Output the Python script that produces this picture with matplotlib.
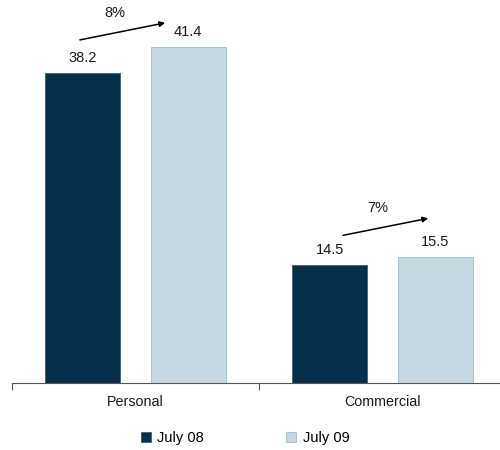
import numpy as np
import matplotlib.pyplot as plt

plt.rcParams['font.family'] = ['Liberation Sans', 'DejaVu Sans']

categories = ["Personal", "Commercial"]
series_names = ["July 08", "July 09"]
july08 = [38.2, 14.5]
july09 = [41.4, 15.5]

dark = "#04304b"
light = "#c6d8e1"

# arrow placement per group: x offsets from the group centre, lift above the July 08 bar
arrow_dx = [(-0.225, 0.12), (-0.16, 0.185)]
arrow_lift = [4.1, 3.7]

fig = plt.figure(figsize=(5, 4.5), dpi=100)
ax = fig.add_axes([0.024, 0.149, 0.988, 0.811])

x = np.arange(len(categories))
off = 0.213
w = 0.304
b1 = ax.bar(x - off, july08, w, color=dark, edgecolor="#3d5f74", linewidth=0.6, label=series_names[0])
b2 = ax.bar(x + off, july09, w, color=light, edgecolor="#9fbccb", linewidth=0.6, label=series_names[1])

# value labels above each bar
for xi, v in zip(x - off, july08):
    ax.text(xi, v + 1.9, f"{v:.1f}", ha="center", va="center", fontsize=10.5, color="#1a1a1a")
for xi, v in zip(x + off, july09):
    ax.text(xi, v + 1.9, f"{v:.1f}", ha="center", va="center", fontsize=10.5, color="#1a1a1a")

# growth arrows between the two periods
for i, (a, b) in enumerate(zip(july08, july09)):
    pct = round((b / a - 1) * 100)
    x0, x1 = i + arrow_dx[i][0], i + arrow_dx[i][1]
    y0 = a + arrow_lift[i]
    y1 = y0 + 2.1
    ax.annotate("", xy=(x1, y1), xytext=(x0, y0), annotation_clip=False,
                arrowprops=dict(arrowstyle="-|>", color="black", lw=1.1,
                                mutation_scale=8, shrinkA=0, shrinkB=0))
    ax.text((x0 + x1) / 2 - 0.03, (y0 + y1) / 2 + 2.3, f"{pct}%", ha="center", va="center",
            fontsize=10.5, color="#1a1a1a")

ax.set_xlim(-0.5, 1.5)
ax.set_ylim(0, 45)
ax.set_yticks([])
ax.set_xticks(x)
ax.set_xticklabels(categories, fontsize=10.3, color="#1a1a1a")
ax.tick_params(axis="x", which="major", length=0, pad=9)
ax.set_xticks([-0.5, 0.5, 1.5], minor=True)
ax.tick_params(axis="x", which="minor", length=5, width=0.8, color="#555555", direction="out")

for s in ["top", "right", "left"]:
    ax.spines[s].set_visible(False)
ax.spines["bottom"].set_color("#555555")
ax.spines["bottom"].set_linewidth(0.8)

fig.legend(handles=[b1, b2], loc="center", bbox_to_anchor=(0.49, 0.027), ncol=2,
           frameon=False, fontsize=10.5, handlelength=0.7, handleheight=0.7,
           columnspacing=5.6, handletextpad=0.45)

fig.savefig("out.png", dpi=100)
